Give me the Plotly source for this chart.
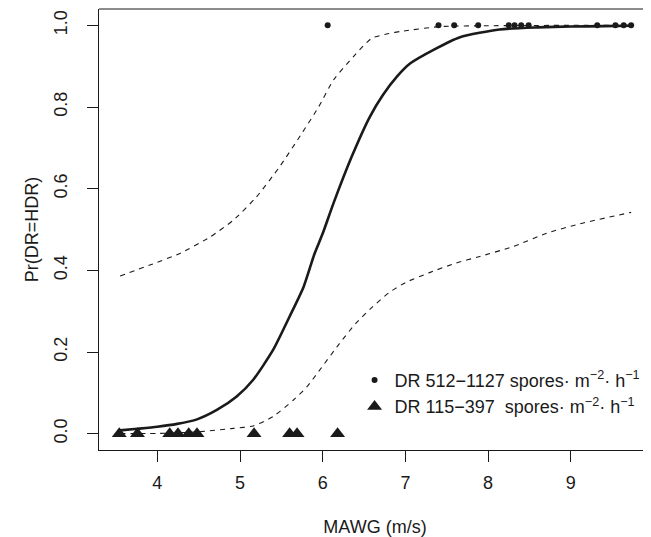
import plotly.graph_objects as go

# observed points
mawg_high = [6.06, 7.40, 7.59, 7.88, 8.25, 8.32, 8.40, 8.49, 9.32, 9.54, 9.64, 9.73]
pr_high = [1, 1, 1, 1, 1, 1, 1, 1, 1, 1, 1, 1]
mawg_low = [3.54, 3.76, 4.15, 4.25, 4.38, 4.48, 5.17, 5.60, 5.69, 6.18]
pr_low = [0, 0, 0, 0, 0, 0, 0, 0, 0, 0]

# fitted curve
fit_x = [3.55, 3.76, 4.0, 4.24, 4.48, 4.72, 4.96, 5.16, 5.40, 5.60, 5.77, 5.90, 6.0,
         6.13, 6.35, 6.57, 6.73, 6.9, 7.06, 7.34, 7.66, 8.14, 8.6, 9.0, 9.4, 9.73]
fit_p = [0.008, 0.012, 0.017, 0.024, 0.035, 0.058, 0.091, 0.132, 0.205, 0.287, 0.36, 0.44, 0.49,
         0.564, 0.678, 0.776, 0.83, 0.875, 0.907, 0.94, 0.971, 0.99, 0.995, 0.997, 0.998, 0.999]

# confidence bands
upper_x = [3.55, 3.91, 4.28, 4.64, 4.92, 5.2, 5.48, 5.73, 5.95, 6.13, 6.37, 6.59, 6.8, 6.94, 7.42, 8.0, 9.0, 9.73]
upper_p = [0.386, 0.413, 0.442, 0.482, 0.523, 0.58, 0.654, 0.73, 0.80, 0.866, 0.923, 0.968, 0.98, 0.985, 0.997, 0.999, 1.0, 1.0]
lower_x = [3.55, 4.11, 4.52, 4.92, 5.16, 5.40, 5.65, 5.81, 5.95, 6.2, 6.4, 6.6, 6.8, 7.0, 7.3, 7.6, 7.9, 8.3, 8.71, 9.11, 9.73]
lower_p = [0.0, 0.001, 0.005, 0.013, 0.019, 0.042, 0.083, 0.115, 0.152, 0.22, 0.27, 0.31, 0.345, 0.37, 0.395, 0.417, 0.434, 0.458, 0.491, 0.514, 0.542]

x_ticks = [4, 5, 6, 7, 8, 9]
y_ticks = [0.0, 0.2, 0.4, 0.6, 0.8, 1.0]
y_ticklabels = ["0.0", "0.2", "0.4", "0.6", "0.8", "1.0"]

ink = "#1a1a1a"
font = "Liberation Sans, Arial, Helvetica, sans-serif"

fig = go.Figure()
fig.add_trace(go.Scatter(x=upper_x, y=upper_p, mode="lines", showlegend=False,
                         line=dict(color=ink, width=1.1, dash="5px,5px", shape="spline", smoothing=0.6)))
fig.add_trace(go.Scatter(x=lower_x, y=lower_p, mode="lines", showlegend=False,
                         line=dict(color=ink, width=1.1, dash="5px,5px", shape="spline", smoothing=0.6)))
fig.add_trace(go.Scatter(x=fit_x, y=fit_p, mode="lines", showlegend=False,
                         line=dict(color=ink, width=2.6, shape="spline", smoothing=0.6)))
fig.add_trace(go.Scatter(x=mawg_high, y=pr_high, mode="markers",
                         name="DR 512\u22121127 spores\u00b7 m<sup>\u22122</sup>\u00b7 h<sup>\u22121</sup>",
                         marker=dict(symbol="circle", size=6, color=ink)))
fig.add_trace(go.Scatter(x=mawg_low, y=pr_low, mode="markers",
                         name="DR 115\u2212397\u00a0 spores\u00b7 m<sup>\u22122</sup>\u00b7 h<sup>\u22121</sup>",
                         marker=dict(symbol="triangle-up", size=13, color=ink)))

# the page body adds an 8px offset, so the figure is 8px smaller than the window
fig.update_layout(
    template="none",
    width=643, height=529,
    margin=dict(l=91, r=0, t=1, b=87, autoexpand=False),
    paper_bgcolor="white", plot_bgcolor="white",
    font=dict(family=font, size=18, color=ink),
    showlegend=True,
    legend=dict(x=0.463, y=0.2, xanchor="left", yanchor="top", bgcolor="rgba(0,0,0,0)",
                font=dict(size=18), itemwidth=30, tracegroupgap=0, borderwidth=0),
    xaxis=dict(range=[3.295, 9.97], tickvals=x_ticks, ticks="outside", ticklen=11, tickcolor=ink,
               tickwidth=1, showgrid=False, zeroline=False, showline=True, linecolor=ink, linewidth=1,
               automargin=False, ticklabelstandoff=5,
               title=dict(text="MAWG (m/s)", standoff=29, font=dict(size=18)), tickfont=dict(size=18)),
    yaxis=dict(range=[-0.04, 1.04], tickvals=y_ticks, ticktext=y_ticklabels, ticks="outside",
               ticklen=11, tickcolor=ink, tickwidth=1, tickangle=-90, automargin=False,
               ticklabelstandoff=13,
               showgrid=False, zeroline=False, showline=True, linecolor=ink, linewidth=1,
               title=dict(text="Pr(DR=HDR)", standoff=7, font=dict(size=18)), tickfont=dict(size=18)),
    shapes=[dict(type="line", xref="paper", yref="paper", x0=0, x1=1, y0=1, y1=1,
                 line=dict(color=ink, width=1))],
)

fig.write_html("out.html")
